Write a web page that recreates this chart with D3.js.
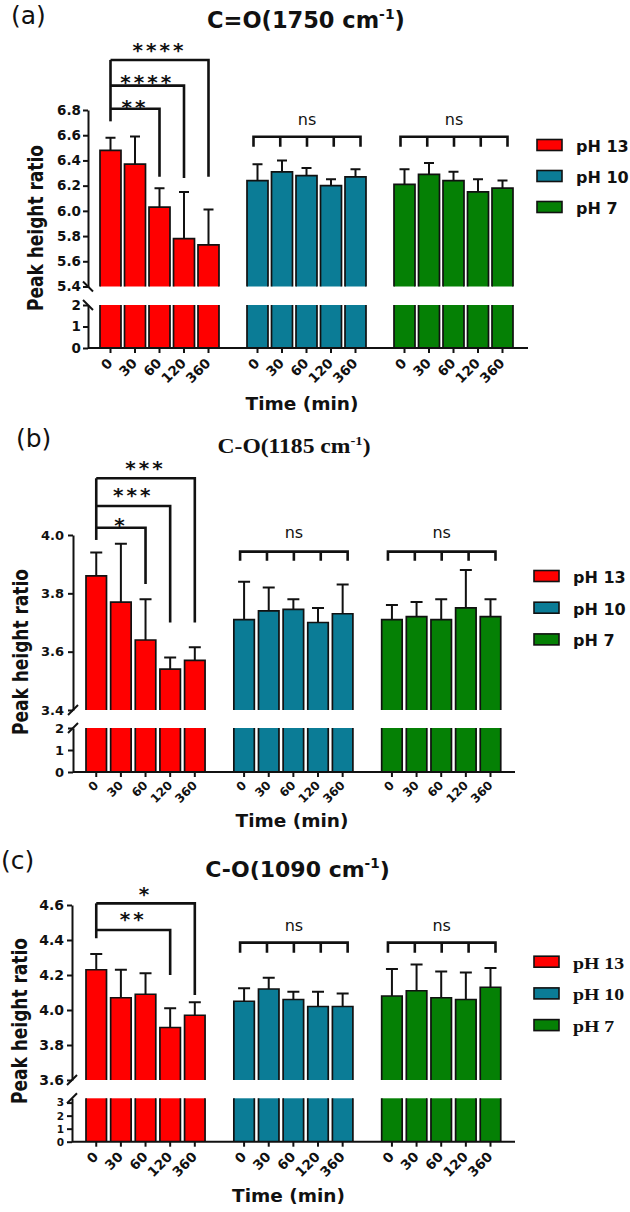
<!DOCTYPE html>
<html><head><meta charset="utf-8">
<script src="https://cdn.jsdelivr.net/npm/d3@7/dist/d3.min.js"></script>
<style>body{margin:0;background:#fff}svg{display:block}</style>
</head><body><svg id="c" width="630" height="1212"></svg>
<script>
// ---------- data ----------
const times = ["0","30","60","120","360"];
const groups = ["pH 13","pH 10","pH 7"];
const nsLabels = ["ns","ns"];

// (a) C=O (1750 cm-1)
const aPH13 = [6.48, 6.37, 6.03, 5.78, 5.73];
const aPH13SD = [0.10, 0.22, 0.15, 0.37, 0.28];
const aPH10 = [6.24, 6.31, 6.28, 6.20, 6.27];
const aPH10SD = [0.13, 0.09, 0.06, 0.05, 0.06];
const aPH7 = [6.21, 6.29, 6.24, 6.15, 6.18];
const aPH7SD = [0.12, 0.09, 0.07, 0.10, 0.06];
const aUpperTicks = [5.4, 5.6, 5.8, 6.0, 6.2, 6.4, 6.6, 6.8];
const aLowerTicks = [0, 1, 2];
const aSigTargets = ["60", "120", "360"];
const aSigLabels = ["**", "****", "****"];

// (b) C-O (1185 cm-1)
const bPH13 = [3.86, 3.77, 3.64, 3.54, 3.57];
const bPH13SD = [0.08, 0.20, 0.14, 0.04, 0.045];
const bPH10 = [3.71, 3.74, 3.745, 3.70, 3.73];
const bPH10SD = [0.13, 0.08, 0.035, 0.05, 0.10];
const bPH7 = [3.71, 3.72, 3.71, 3.75, 3.72];
const bPH7SD = [0.05, 0.05, 0.07, 0.13, 0.06];
const bUpperTicks = [3.4, 3.6, 3.8, 4.0];
const bLowerTicks = [0, 1, 2];
const bSigTargets = ["60", "120", "360"];
const bSigLabels = ["*", "***", "***"];

// (c) C-O (1090 cm-1)
const cPH13 = [4.23, 4.07, 4.09, 3.90, 3.97];
const cPH13SD = [0.09, 0.16, 0.12, 0.11, 0.075];
const cPH10 = [4.05, 4.12, 4.06, 4.02, 4.02];
const cPH10SD = [0.075, 0.065, 0.045, 0.085, 0.075];
const cPH7 = [4.08, 4.11, 4.07, 4.06, 4.13];
const cPH7SD = [0.155, 0.15, 0.15, 0.155, 0.11];
const cUpperTicks = [3.6, 3.8, 4.0, 4.2, 4.4, 4.6];
const cLowerTicks = [0, 1, 2, 3];
const cSigTargets = ["120", "360"];
const cSigLabels = ["**", "*"];

// ---------- drawing ----------
const svg = d3.select("#c");
const colors = {"pH 13": "#ff0000", "pH 10": "#0b7c96", "pH 7": "#058005"};
const SANS = "'DejaVu Sans', sans-serif";
const SERIF = "'Liberation Serif', 'Times New Roman', serif";
const INK = "#111";

function txt(parent, o) {
  let tr = `translate(${o.x},${o.y})`;
  if (o.rot) tr += ` rotate(${o.rot})`;
  if (o.sx || o.sy) tr += ` scale(${o.sx || 1},${o.sy || 1})`;
  const t = parent.append("text").text(o.text)
    .attr("font-family", o.family || SANS).attr("font-size", o.size)
    .attr("font-weight", o.weight || "bold").attr("fill", INK)
    .attr("text-anchor", o.anchor || "start").attr("transform", tr);
  if (o.ls) t.attr("letter-spacing", o.ls);
  return t;
}

function title(parent, o) {
  const t = parent.append("text")
    .attr("font-family", o.family).attr("font-size", o.size).attr("font-weight", "bold")
    .attr("fill", INK).attr("text-anchor", "middle")
    .attr("transform", `translate(${o.x},${o.y}) scale(${o.sx || 1},1)`);
  t.append("tspan").text(o.main);
  t.append("tspan").text("-1").attr("font-size", o.size * 0.62).attr("dy", -o.size * 0.42);
  t.append("tspan").text(")").attr("dy", o.size * 0.42);
}

function drawPanel(P) {
  const g = svg.append("g");
  const keys = [];
  groups.forEach((gr, gi) => { if (gi > 0) keys.push("gap" + gi); times.forEach(t => keys.push(gr + "|" + t)); });
  const pin = 1 - P.bw / P.step;
  const x = d3.scaleBand().domain(keys)
    .range([P.x0, P.x0 + P.step * (keys.length - pin)]).paddingInner(pin).paddingOuter(0);
  const bw = x.bandwidth();
  const cx = k => x(k) + bw / 2;
  const yU = d3.scaleLinear().domain(P.upDom).range(P.upRange);
  const yL = d3.scaleLinear().domain(P.lowDom).range(P.lowRange);

  const rows = [];
  groups.forEach((gr, gi) => times.forEach((t, i) =>
    rows.push({gr, t, key: gr + "|" + t, v: P.means[gi][i], sd: P.sds[gi][i]})));

  const base = yU(P.upDom[0]);
  const lowTop = yL(P.lowDom[1]), y0 = yL(0);

  // bars – upper segment
  g.selectAll("rect.u").data(rows).join("rect").attr("class", "u")
    .attr("x", d => x(d.key)).attr("y", d => yU(d.v)).attr("width", bw)
    .attr("height", d => base - yU(d.v)).attr("fill", d => colors[d.gr]);
  g.selectAll("path.uo").data(rows).join("path").attr("class", "uo")
    .attr("d", d => `M${x(d.key)},${base}V${yU(d.v)}H${x(d.key) + bw}V${base}`)
    .attr("fill", "none").attr("stroke", INK).attr("stroke-width", 1.7);
  // bars – lower segment
  g.selectAll("rect.l").data(rows).join("rect").attr("class", "l")
    .attr("x", d => x(d.key)).attr("y", lowTop).attr("width", bw)
    .attr("height", y0 - lowTop).attr("fill", d => colors[d.gr]);
  g.selectAll("path.lo").data(rows).join("path").attr("class", "lo")
    .attr("d", d => `M${x(d.key)},${lowTop}V${y0}M${x(d.key) + bw},${lowTop}V${y0}`)
    .attr("fill", "none").attr("stroke", INK).attr("stroke-width", 1.7);
  // error bars
  g.selectAll("path.e").data(rows).join("path").attr("class", "e")
    .attr("d", d => {
      const c = cx(d.key), t = yU(d.v + d.sd);
      return `M${c},${yU(d.v)}V${t}M${c - P.cap / 2},${t}H${c + P.cap / 2}`;
    })
    .attr("fill", "none").attr("stroke", INK).attr("stroke-width", 2);

  // y axes
  const ya = g.append("g").attr("transform", `translate(${P.ax},0)`)
    .call(d3.axisLeft(yU).tickValues(P.upTicks).tickFormat(d3.format(".1f"))
      .tickSize(5).tickSizeOuter(0).tickPadding(P.tp));
  const yb = g.append("g").attr("transform", `translate(${P.ax},0)`)
    .call(d3.axisLeft(yL).tickValues(P.lowTicks).tickFormat(d3.format("d"))
      .tickSize(5).tickSizeOuter(0).tickPadding(P.tp));
  [ya, yb].forEach((a, ai) => {
    a.select(".domain").attr("stroke", INK).attr("stroke-width", 2);
    a.selectAll(".tick line").attr("stroke", INK).attr("stroke-width", 2);
    a.selectAll(".tick text").attr("font-family", SANS).attr("font-weight", "bold")
      .attr("font-size", ai === 1 && P.lowTickFs ? P.lowTickFs : P.tickFs).attr("fill", INK);
  });
  // break marks
  [base, lowTop].forEach(yy => {
    const d = P.breakDir === "\\"
      ? `M${P.ax - 5},${yy - 5}L${P.ax + 5},${yy + 5}`
      : `M${P.ax - 5},${yy + 5}L${P.ax + 5},${yy - 5}`;
    g.append("path").attr("d", d).attr("stroke", INK).attr("stroke-width", 2);
  });

  // x axis
  g.append("line").attr("x1", P.ax).attr("x2", P.xEnd).attr("y1", y0).attr("y2", y0)
    .attr("stroke", INK).attr("stroke-width", 2);
  g.selectAll("line.xt").data(rows).join("line").attr("class", "xt")
    .attr("x1", d => cx(d.key)).attr("x2", d => cx(d.key)).attr("y1", y0).attr("y2", y0 + 5)
    .attr("stroke", INK).attr("stroke-width", 2);
  rows.forEach(d => txt(g, {x: cx(d.key) + 3, y: y0 + P.xlDy, text: d.t, rot: -45, anchor: "end", size: P.xFs}));

  // significance brackets (pH 13)
  const lx = cx(groups[0] + "|" + times[0]);
  const topLvl = d3.max(P.sigLevels);
  const sig = g.append("g").attr("fill", "none").attr("stroke", INK).attr("stroke-width", 2.6);
  sig.append("path").attr("d", `M${lx},${yU(topLvl)}V${yU(P.sigLeftEnd)}`);
  P.sigTargets.forEach((t, i) => {
    const rx = cx(groups[0] + "|" + t), ly = yU(P.sigLevels[i]);
    sig.append("path").attr("d", `M${lx},${ly}H${rx}V${yU(P.sigRightEnd[i])}`);
    txt(g, {x: (lx + rx) / 2, y: ly - P.sigOff[i] + 0.52 * P.starFs, text: P.sigLabels[i],
      anchor: "middle", size: P.starFs, ls: 3});
  });

  // ns brackets (pH 10, pH 7)
  [1, 2].forEach((gi, j) => {
    const a = cx(groups[gi] + "|" + times[0]) - 4, b = cx(groups[gi] + "|" + times[times.length - 1]) + 5;
    const ly = yU(P.nsLevel);
    let d = `M${a},${ly + P.nsTick}V${ly}H${b}V${ly + P.nsTick}`;
    for (let k = 1; k < times.length - 1; k++) {
      const xx = a + (b - a) * k / (times.length - 1);
      d += `M${xx},${ly}V${ly + P.nsTick}`;
    }
    sig.append("path").attr("d", d);
    txt(g, {x: (a + b) / 2, y: ly - P.nsOff + 4.4, text: nsLabels[j], anchor: "middle", size: 16, weight: "normal"});
  });

  // legend
  groups.forEach((gr, i) => {
    const yy = P.legY0 + i * P.legDy;
    g.append("rect").attr("x", P.legX).attr("y", yy - 5.5).attr("width", 25).attr("height", 11)
      .attr("fill", colors[gr]).attr("stroke", INK).attr("stroke-width", 1.6);
    txt(g, {x: P.legX + 39, y: yy + 7, text: gr, size: P.legFs, family: P.legFamily, sx: P.legSx});
  });

  // labels
  txt(g, {x: P.labX, y: P.labY, text: P.lab, size: 25, weight: "normal"});
  title(g, {x: P.titleX, y: P.titleY, main: P.titleMain, size: P.titleFs, family: P.titleFamily, sx: P.titleSx});
  txt(g, {x: P.yLabX, y: P.yLabY, text: "Peak height ratio", rot: -90, anchor: "middle", size: 17, sy: 1.25});
  txt(g, {x: P.timeX, y: P.timeY, text: "Time (min)", anchor: "middle", size: 18.5});
}

drawPanel({
  means: [aPH13, aPH10, aPH7], sds: [aPH13SD, aPH10SD, aPH7SD],
  upTicks: aUpperTicks, lowTicks: aLowerTicks, sigTargets: aSigTargets, sigLabels: aSigLabels,
  x0: 100, step: 24.5, bw: 21, ax: 88, xEnd: 528,
  upDom: [5.4, 6.8], upRange: [286.5, 110], lowDom: [0, 2], lowRange: [348, 305],
  tickFs: 13.5, tp: 2, xFs: 13.5, xlDy: 16, breakDir: "\\", cap: 10,
  sigLevels: [6.81, 6.993, 7.197], sigRightEnd: [6.27, 6.26, 6.27], sigLeftEnd: 6.71,
  sigOff: [5.5, 7, 13], starFs: 20,
  nsLevel: 6.588, nsTick: 10, nsOff: 16,
  legX: 537, legY0: 145, legDy: 31, legFs: 16, legFamily: SANS,
  lab: "(a)", labX: 11, labY: 24,
  titleMain: "C=O(1750 cm", titleX: 306, titleY: 28, titleFs: 22.5, titleFamily: SANS,
  yLabX: 43, yLabY: 228, timeX: 302, timeY: 410
});

drawPanel({
  means: [bPH13, bPH10, bPH7], sds: [bPH13SD, bPH10SD, bPH7SD],
  upTicks: bUpperTicks, lowTicks: bLowerTicks, sigTargets: bSigTargets, sigLabels: bSigLabels,
  x0: 86, step: 24.64, bw: 20.5, ax: 73, xEnd: 515,
  upDom: [3.4, 4.0], upRange: [710, 535], lowDom: [0, 2], lowRange: [772, 728],
  tickFs: 13, tp: 4, xFs: 12, xlDy: 14, breakDir: "/", cap: 12,
  sigLevels: [4.025, 4.0995, 4.1945], sigRightEnd: [3.832, 3.70, 3.70], sigLeftEnd: 3.983,
  sigOff: [6, 14, 13.3], starFs: 20,
  nsLevel: 3.943, nsTick: 9, nsOff: 18.5,
  legX: 534, legY0: 576, legDy: 31.7, legFs: 16, legFamily: SANS,
  lab: "(b)", labX: 16, labY: 447,
  titleMain: "C-O(1185 cm", titleX: 294, titleY: 453, titleFs: 20, titleFamily: SERIF, titleSx: 1.18,
  yLabX: 28, yLabY: 652, timeX: 292, timeY: 827
});

drawPanel({
  means: [cPH13, cPH10, cPH7], sds: [cPH13SD, cPH10SD, cPH7SD],
  upTicks: cUpperTicks, lowTicks: cLowerTicks, sigTargets: cSigTargets, sigLabels: cSigLabels,
  x0: 86, step: 24.64, bw: 20.5, ax: 72, xEnd: 515,
  upDom: [3.6, 4.6], upRange: [1080, 905], lowDom: [0, 3.33], lowRange: [1141.7, 1098.3],
  tickFs: 14, lowTickFs: 10.5, tp: 3, xFs: 13.5, xlDy: 16, breakDir: "/", cap: 12,
  sigLevels: [4.457, 4.6094], sigRightEnd: [4.2, 4.086], sigLeftEnd: 4.41,
  sigOff: [14, 13], starFs: 20,
  nsLevel: 4.385, nsTick: 10, nsOff: 16,
  legX: 534, legY0: 961.7, legDy: 31.7, legFs: 16.5, legFamily: SERIF, legSx: 1.2,
  lab: "(c)", labX: 1, labY: 869,
  titleMain: "C-O(1090 cm", titleX: 297.5, titleY: 877, titleFs: 22, titleFamily: SANS,
  yLabX: 27, yLabY: 1021, timeX: 288.5, timeY: 1202
});
</script></body></html>
